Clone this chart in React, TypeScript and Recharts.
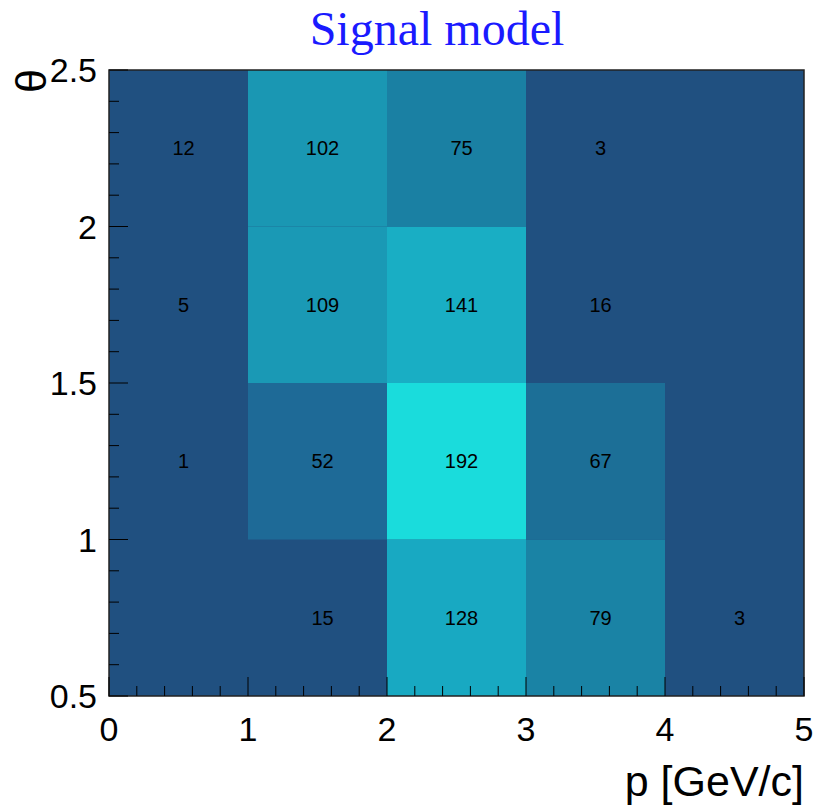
import React from 'react';
import { ComposedChart, XAxis, YAxis, ReferenceArea, Scatter } from 'recharts';

// Bin edges
const pEdges = [0, 1, 2, 3, 4, 5];
const thetaEdges = [0.5, 1, 1.5, 2, 2.5];

// Counts per theta row (columns follow pEdges bins)
const countsTheta05to10 = [0, 15, 128, 79, 3];
const countsTheta10to15 = [1, 52, 192, 67, 0];
const countsTheta15to20 = [5, 109, 141, 16, 0];
const countsTheta20to25 = [12, 102, 75, 3, 0];
const countRows = [countsTheta05to10, countsTheta10to15, countsTheta15to20, countsTheta20to25];

// Tick labels / positions
const pMajorTicks = [0, 1, 2, 3, 4, 5];
const pAllTicks = [0, 0.2, 0.4, 0.6, 0.8, 1, 1.2, 1.4, 1.6, 1.8, 2, 2.2, 2.4, 2.6, 2.8, 3, 3.2, 3.4, 3.6, 3.8, 4, 4.2, 4.4, 4.6, 4.8, 5];
const thetaMajorTicks = [0.5, 1, 1.5, 2, 2.5];
const thetaAllTicks = [0.5, 0.6, 0.7, 0.8, 0.9, 1, 1.1, 1.2, 1.3, 1.4, 1.5, 1.6, 1.7, 1.8, 1.9, 2, 2.1, 2.2, 2.3, 2.4, 2.5];

const title = 'Signal model';
const xTitle = 'p [GeV/c]';
const yTitle = 'θ';

// palette (value -> rgb)
const paletteStops: [number, number[]][] = [
  [0, [32, 80, 128]],
  [16, [32, 80, 128]],
  [52, [30, 106, 151]],
  [67, [28, 111, 151]],
  [75, [26, 128, 163]],
  [79, [26, 131, 165]],
  [102, [26, 151, 179]],
  [109, [26, 153, 181]],
  [128, [24, 169, 194]],
  [141, [25, 174, 196]],
  [192, [26, 220, 220]],
];
function colorFor(v: number): string {
  if (v <= paletteStops[0][0]) return `rgb(${paletteStops[0][1].join(',')})`;
  for (let i = 1; i < paletteStops.length; i++) {
    const [v1, c1] = paletteStops[i];
    const [v0, c0] = paletteStops[i - 1];
    if (v <= v1) {
      const t = (v - v0) / (v1 - v0);
      const c = c0.map((a, k) => Math.round(a + (c1[k] - a) * t));
      return `rgb(${c.join(',')})`;
    }
  }
  return `rgb(${paletteStops[paletteStops.length - 1][1].join(',')})`;
}

type Cell = { x0: number; x1: number; y0: number; y1: number; xc: number; yc: number; n: number };
const cells: Cell[] = [];
countRows.forEach((row, j) => {
  row.forEach((n, i) => {
    cells.push({
      x0: pEdges[i], x1: pEdges[i + 1], y0: thetaEdges[j], y1: thetaEdges[j + 1],
      xc: (pEdges[i] + pEdges[i + 1]) / 2, yc: (thetaEdges[j] + thetaEdges[j + 1]) / 2, n,
    });
  });
});
const labelCells = cells.filter((c) => c.n > 0);

const FONT = "'Liberation Sans', Arial, Helvetica, sans-serif";

const isMajor = (v: number, majors: number[]) => majors.some((m) => Math.abs(m - v) < 1e-9);

const XTick = (props: any) => {
  const { x, y, payload } = props;
  const v = payload.value;
  const major = isMajor(v, pMajorTicks);
  return (
    <g>
      <line x1={x} x2={x} y1={y} y2={y - (major ? 19 : 10)} stroke="#000" strokeWidth={1} />
      {major && (
        <text x={x} y={y + 45} textAnchor="middle" fontSize={34} fontFamily={FONT} fill="#000">
          {String(v)}
        </text>
      )}
    </g>
  );
};

const YTick = (props: any) => {
  const { x, y, payload } = props;
  const v = payload.value;
  const major = isMajor(v, thetaMajorTicks);
  return (
    <g>
      <line x1={x} x2={x + (major ? 19 : 10)} y1={y} y2={y} stroke="#000" strokeWidth={1} />
      {major && (
        <text x={x - 12} y={y + 12} textAnchor="end" fontSize={34} fontFamily={FONT} fill="#000">
          {String(v)}
        </text>
      )}
    </g>
  );
};

const CountShape = (props: any) => {
  const { cx, cy, payload } = props;
  return (
    <text x={cx + 5} y={cy + 7} textAnchor="middle" fontSize={20} fontFamily={FONT} fill="#000">
      {payload.n}
    </text>
  );
};

export default function App() {
  return (
    <div style={{ position: 'absolute', left: 0, top: 0, width: 814, height: 811, background: '#fff' }}>
      <ComposedChart
        width={814}
        height={811}
        margin={{ top: 70, right: 10, bottom: 55, left: 29 }}
      >
        <XAxis
          type="number"
          dataKey="xc"
          domain={[0, 5]}
          ticks={pAllTicks}
          interval={0}
          tick={<XTick />}
          tickLine={false}
          tickSize={0}
          tickMargin={0}
          axisLine={false}
          height={60}
          allowDataOverflow
        />
        <YAxis
          type="number"
          dataKey="yc"
          domain={[0.5, 2.5]}
          ticks={thetaAllTicks}
          interval={0}
          tick={<YTick />}
          tickLine={false}
          tickSize={0}
          tickMargin={0}
          axisLine={false}
          width={80}
          allowDataOverflow
        />
        <ReferenceArea x1={0} x2={5} y1={0.5} y2={2.5} fill={colorFor(0)} fillOpacity={1} stroke="none" ifOverflow="visible" />
        {cells.map((c, k) => (
          <ReferenceArea
            key={k}
            x1={c.x0}
            x2={c.x1}
            y1={c.y0}
            y2={c.y1}
            fill={colorFor(c.n)}
            fillOpacity={1}
            stroke="none"
            ifOverflow="visible"
          />
        ))}
        <ReferenceArea x1={0} x2={5} y1={0.5} y2={2.5} fill="none" stroke="#222" strokeWidth={1.5} ifOverflow="visible" />
        <Scatter data={labelCells} dataKey="yc" shape={<CountShape />} isAnimationActive={false} />
      </ComposedChart>
      <svg width={814} height={811} style={{ position: 'absolute', left: 0, top: 0, pointerEvents: 'none' }}>
        <text x={437} y={45} textAnchor="middle" fontSize={48} fontFamily="'Liberation Serif', 'Times New Roman', serif" fill="#1a1aff">
          {title}
        </text>
        <text x={804} y={796} textAnchor="end" fontSize={43} fontFamily={FONT} fill="#000">
          {xTitle}
        </text>
        <text x={46} y={69} textAnchor="end" fontSize={43} fontFamily={FONT} fill="#000" transform="rotate(-90 46 69)">
          {yTitle}
        </text>
      </svg>
    </div>
  );
}
